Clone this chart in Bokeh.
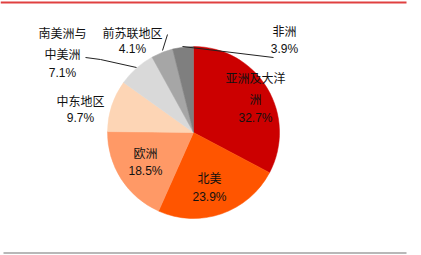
import math
from bokeh.plotting import figure
from bokeh.models import Range1d
from bokeh.core.properties import value
from bokeh.embed import file_html
from bokeh.resources import INLINE

# ---- data ----
regions = ["亚洲及大洋洲", "北美", "欧洲", "中东地区", "南美洲与中美洲", "前苏联地区", "非洲"]
shares = [32.7, 23.9, 18.5, 9.7, 7.1, 4.1, 3.9]
colors = ["#CC0000", "#FF5500", "#FF9966", "#FDD5B5", "#D9D9D9", "#A6A6A6", "#7F7F7F"]

# label rows for each region (name split into display lines)
name_rows = [["亚洲及大洋", "洲"], ["北美"], ["欧洲"], ["中东地区"], ["南美洲与", "中美洲"], ["前苏联地区"], ["非洲"]]

# ---- layout (image pixel coordinates, y downward) ----
W, H = 421, 255
CX, CY, R = 193, 132, 86
label_rows_y = [[77, 98, 117], [177, 196], [152, 170], [100, 117], [32, 53, 72], [32, 48], [30, 48]]
label_x = [255, 209, 145, 80, 62, 132, 284]


def fy(y):
    return H - y


p = figure(width=W, height=H, output_backend="svg", toolbar_location=None,
           x_range=Range1d(0, W), y_range=Range1d(0, H), min_border=0,
           x_axis_location=None, y_axis_location=None)
p.outline_line_color = None
p.grid.visible = False
p.background_fill_color = "white"
p.border_fill_color = "white"

# top and bottom rules
p.line([0, 406], [fy(2), fy(2)], line_color="#E04040", line_width=2)
p.line([3, 406], [fy(252.5), fy(252.5)], line_color="#A0A0A0", line_width=1.5)

total = sum(shares)
starts, ends = [], []
cum = 0.0
for v in shares:
    starts.append(math.pi / 2 - 2 * math.pi * cum / total)
    cum += v
    ends.append(math.pi / 2 - 2 * math.pi * cum / total)

p.wedge(x=[CX] * len(shares), y=[fy(CY)] * len(shares), radius=R,
        start_angle=starts, end_angle=ends, direction="clock",
        fill_color=colors, line_color=colors, line_width=0.5)

# leader lines
p.line([182, 273], [fy(46), fy(57)], line_color="#222222", line_width=1)
p.line([162, 167], [fy(50), fy(34)], line_color="#222222", line_width=1)
p.line([85, 100, 136], [fy(57), fy(59), fy(67)], line_color="#222222", line_width=1)

# labels
cn_x, cn_y, cn_t = [], [], []
pc_x, pc_y, pc_t = [], [], []
for i, rows in enumerate(name_rows):
    ys = label_rows_y[i]
    for j, r in enumerate(rows):
        cn_x.append(label_x[i])
        cn_y.append(fy(ys[j]))
        cn_t.append(r)
    pc_x.append(label_x[i])
    pc_y.append(fy(ys[-1]))
    pc_t.append(f"{shares[i]}%")

p.text(x=cn_x, y=cn_y, text=cn_t, text_font=value("Noto Sans CJK SC"),
       text_font_size="12px", text_color="#111111", text_align="center",
       text_baseline="middle")
p.text(x=pc_x, y=pc_y, text=pc_t, text_font=value("Liberation Sans"),
       text_font_size="12px", text_color="#111111", text_align="center",
       text_baseline="middle")

open("out.html", "w").write(file_html(p, INLINE))
